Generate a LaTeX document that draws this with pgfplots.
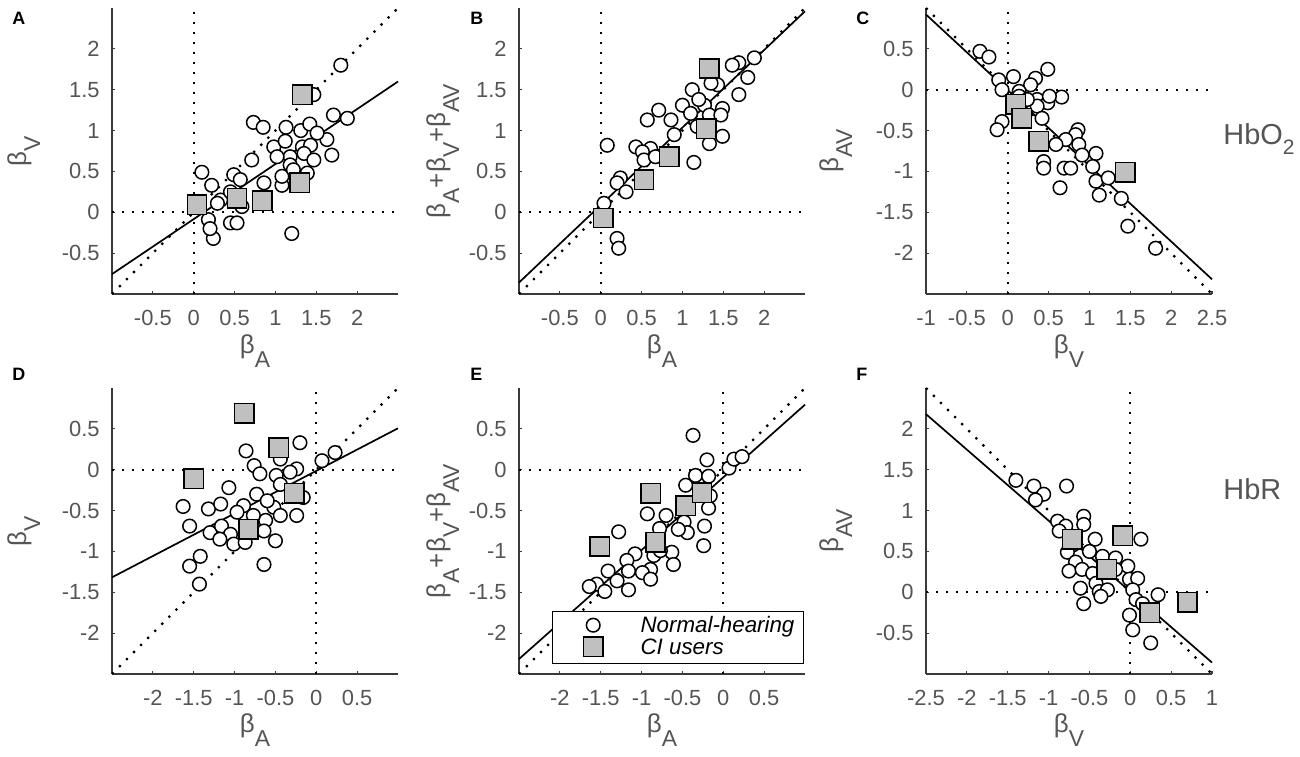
\documentclass[border=0pt]{standalone}
\usepackage{pgfplots}
\pgfplotsset{compat=1.18}
\usepackage{fontspec}
\setmainfont{Liberation Sans}
\definecolor{axgray}{HTML}{3A3A3A}
\definecolor{txtgray}{HTML}{555555}
\definecolor{sqgray}{HTML}{C0C0C0}
\newcommand{\bsub}[1]{β\raisebox{-7bp}{\fontsize{11.5}{11.5}\selectfont #1}}
\newcommand{\lab}[1]{{\fontsize{13}{13}\selectfont #1}}
\pgfplotsset{
  panel/.style={
    width=143bp,height=143bp,scale only axis,anchor=south west,
    axis lines=left,
    axis line style={-,draw=axgray,line width=0.8bp},
    tick align=inside, major tick length=1.5bp,
    tick style={draw=axgray,line width=0.6bp},
    xticklabel style={anchor=center,inner sep=0pt,yshift=-12bp,text=txtgray,font=\fontsize{11}{11}\selectfont},
    yticklabel style={anchor=east,inner sep=0pt,xshift=-6bp,text=txtgray,font=\fontsize{11}{11}\selectfont},
    clip=false,
  },
  circ/.style={only marks,color=black,mark=*,mark size=3.4bp,mark options={fill=white,draw=black,line width=0.75bp}},
  sq/.style={only marks,color=black,mark=square*,mark size=4.85bp,mark options={fill=sqgray,draw=black,line width=0.75bp}},
  dotl/.style={black,line width=1.1bp,dash pattern=on 1.1bp off 3.9bp,forget plot},
  regl/.style={black,line width=0.85bp,forget plot},
}
\begin{document}
\begin{tikzpicture}
% ---------------- A ----------------
\begin{axis}[panel,at={(56bp,231.5bp)},
  xmin=-1,xmax=2.5,ymin=-1,ymax=2.5,
  xtick={-0.5,0,0.5,1,1.5,2},xticklabels={-0.5,0,0.5,1,1.5,2},
  ytick={-0.5,0,0.5,1,1.5,2},yticklabels={-0.5,0,0.5,1,1.5,2}]
\addplot[circ] coordinates {(1.80,1.80)(1.47,1.44)(1.71,1.19)(1.88,1.15)(0.73,1.10)(0.85,1.04)(1.13,1.04)(1.31,1.00)(1.42,1.08)(0.98,0.80)(1.12,0.87)(1.33,0.80)(1.43,0.82)(1.63,0.89)(1.51,0.97)(1.35,0.72)(1.47,0.64)(1.69,0.70)(1.18,0.68)(1.02,0.68)(1.18,0.58)(0.71,0.64)(0.49,0.46)(0.10,0.49)(0.22,0.33)(0.57,0.40)(0.86,0.36)(1.08,0.33)(0.33,0.15)(0.45,0.25)(0.18,-0.09)(0.24,-0.32)(0.20,-0.20)(0.45,-0.13)(0.53,-0.13)(0.59,0.07)(1.20,-0.26)(0.06,0.07)(0.29,0.11)(1.08,0.44)(1.22,0.52)(1.39,0.48)};
\addplot[sq] coordinates {(0.04,0.09)(0.53,0.17)(0.84,0.14)(1.30,0.36)(1.33,1.44)};
\addplot[dotl] coordinates {(0,-1)(0,2.5)};
\addplot[dotl] coordinates {(-1,0)(2.5,0)};
\addplot[dotl] coordinates {(-1,-1)(2.5,2.5)};
\addplot[regl] coordinates {(-1,-0.757)(2.5,1.60)};
\end{axis}
% ---------------- B ----------------
\begin{axis}[panel,at={(259.5bp,231.5bp)},
  xmin=-1,xmax=2.5,ymin=-1,ymax=2.5,
  xtick={-0.5,0,0.5,1,1.5,2},xticklabels={-0.5,0,0.5,1,1.5,2},
  ytick={-0.5,0,0.5,1,1.5,2},yticklabels={-0.5,0,0.5,1,1.5,2}]
\addplot[circ] coordinates {(1.88,1.89)(1.69,1.83)(1.61,1.80)(1.80,1.65)(1.69,1.44)(1.43,1.56)(1.35,1.58)(1.12,1.50)(1.49,1.27)(1.27,1.31)(1.00,1.31)(0.71,1.25)(0.57,1.13)(0.86,1.13)(1.10,1.21)(1.18,1.05)(1.33,1.19)(0.90,0.95)(1.49,0.93)(1.33,0.84)(0.43,0.80)(0.61,0.78)(0.51,0.74)(0.08,0.82)(0.53,0.64)(1.14,0.61)(0.24,0.42)(0.20,0.36)(0.31,0.25)(0.04,0.11)(0.20,-0.32)(0.22,-0.44)(1.47,1.19)(1.20,1.38)(0.67,0.68)};
\addplot[sq] coordinates {(0.03,-0.07)(0.53,0.40)(0.84,0.68)(1.29,1.02)(1.33,1.76)};
\addplot[dotl] coordinates {(0,-1)(0,2.5)};
\addplot[dotl] coordinates {(-1,0)(2.5,0)};
\addplot[dotl] coordinates {(-1,-1)(2.5,2.5)};
\addplot[regl] coordinates {(-1,-0.86)(2.5,2.46)};
\end{axis}
% ---------------- C ----------------
\begin{axis}[panel,at={(463bp,231.5bp)},
  xmin=-1,xmax=2.5,ymin=-2.5,ymax=1,
  xtick={-1,-0.5,0,0.5,1,1.5,2,2.5},xticklabels={-1,-0.5,0,0.5,1,1.5,2,2.5},
  ytick={-2,-1.5,-1,-0.5,0,0.5},yticklabels={-2,-1.5,-1,-0.5,0,0.5}]
\addplot[circ] coordinates {(-0.34,0.47)(-0.23,0.40)(-0.11,0.12)(0.07,0.16)(0.34,0.14)(0.49,0.25)(0.28,0.06)(-0.07,0.00)(0.14,-0.02)(0.66,-0.09)(0.36,-0.12)(0.49,-0.16)(0.36,-0.20)(-0.07,-0.39)(-0.13,-0.49)(0.42,-0.35)(0.86,-0.49)(0.83,-0.55)(0.71,-0.61)(0.59,-0.67)(0.87,-0.67)(0.91,-0.80)(1.08,-0.78)(0.44,-0.88)(0.44,-0.96)(0.69,-0.96)(0.77,-0.96)(1.04,-0.94)(1.08,-1.12)(1.23,-1.08)(1.12,-1.29)(0.64,-1.20)(1.39,-1.33)(1.47,-1.67)(1.81,-1.94)(0.14,-0.08)(0.24,-0.12)(0.51,-0.08)};
\addplot[sq] coordinates {(0.10,-0.18)(0.17,-0.35)(0.38,-0.63)(1.44,-1.01)};
\addplot[dotl] coordinates {(0,-2.5)(0,1)};
\addplot[dotl] coordinates {(-1,0)(2.5,0)};
\addplot[dotl] coordinates {(-1,1)(2.5,-2.5)};
\addplot[regl] coordinates {(-1,0.92)(2.5,-2.32)};
\end{axis}
% ---------------- D ----------------
\begin{axis}[panel,at={(56bp,41.5bp)},
  xmin=-2.5,xmax=1,ymin=-2.5,ymax=1,
  xtick={-2,-1.5,-1,-0.5,0,0.5},xticklabels={-2,-1.5,-1,-0.5,0,0.5},
  ytick={-2,-1.5,-1,-0.5,0,0.5},yticklabels={-2,-1.5,-1,-0.5,0,0.5}]
\addplot[circ] coordinates {(0.23,0.21)(0.07,0.11)(-0.20,0.33)(-0.86,0.23)(-0.76,0.05)(-0.69,-0.05)(-0.44,0.13)(-0.24,0.01)(-0.32,-0.03)(-0.49,-0.07)(-0.44,-0.18)(-1.07,-0.22)(-0.73,-0.30)(-0.16,-0.34)(-1.63,-0.45)(-1.32,-0.48)(-1.17,-0.42)(-0.89,-0.44)(-0.97,-0.52)(-0.52,-0.46)(-0.44,-0.56)(-0.24,-0.56)(-1.55,-0.69)(-1.30,-0.77)(-1.16,-0.69)(-1.05,-0.79)(-0.62,-0.62)(-0.64,-0.75)(-1.18,-0.85)(-1.01,-0.91)(-0.87,-0.89)(-0.50,-0.87)(-1.42,-1.06)(-1.55,-1.18)(-1.43,-1.40)(-0.64,-1.16)(-0.77,-0.56)(-0.60,-0.38)};
\addplot[sq] coordinates {(-1.50,-0.11)(-0.88,0.69)(-0.46,0.27)(-0.27,-0.29)(-0.83,-0.73)};
\addplot[dotl] coordinates {(0,-2.5)(0,1)};
\addplot[dotl] coordinates {(-2.5,0)(1,0)};
\addplot[dotl] coordinates {(-2.5,-2.5)(1,1)};
\addplot[regl] coordinates {(-2.5,-1.317)(1,0.507)};
\end{axis}
% ---------------- E ----------------
\begin{axis}[panel,at={(259.5bp,41.5bp)},
  xmin=-2.5,xmax=1,ymin=-2.5,ymax=1,
  xtick={-2,-1.5,-1,-0.5,0,0.5},xticklabels={-2,-1.5,-1,-0.5,0,0.5},
  ytick={-2,-1.5,-1,-0.5,0,0.5},yticklabels={-2,-1.5,-1,-0.5,0,0.5},
  legend style={at={(axis description cs:0,0)},anchor=south west,xshift=16.5bp,yshift=5bp,
    draw=black,line width=0.6bp,fill=white,inner xsep=4.5bp,inner ysep=2.25bp,
    row sep=0pt,column sep=0pt,font=\fontsize{11.2}{11.2}\selectfont\itshape,
    nodes={inner sep=0pt,draw=none},cells={anchor=base west}},
  legend image code/.code={\path[draw=none,fill=none] (-15.8bp,-2.4bp) rectangle (23.7bp,8.1bp);
    \draw[#1] plot coordinates {(0bp,3.6bp)};}]
\addplot[circ] coordinates {(-0.37,0.42)(-0.20,0.12)(-0.34,-0.07)(-0.18,-0.08)(-0.46,-0.19)(-0.16,-0.32)(-0.18,-0.47)(-0.23,-0.69)(-0.24,-0.93)(-0.93,-0.54)(-0.70,-0.56)(-0.48,-0.64)(-0.44,-0.77)(-0.55,-0.73)(-0.78,-0.72)(-1.28,-0.76)(0.07,0.02)(0.13,0.13)(0.23,0.16)(-0.63,-1.01)(-0.61,-1.16)(-0.85,-1.05)(-1.08,-1.03)(-1.18,-1.11)(-0.89,-1.22)(-0.99,-1.26)(-1.16,-1.24)(-1.41,-1.24)(-0.89,-1.34)(-1.30,-1.36)(-1.16,-1.47)(-1.55,-1.40)(-1.64,-1.43)(-1.45,-1.49)(-0.77,-0.99)};
\addlegendentry{Normal-hearing}
\addplot[sq] coordinates {(-1.51,-0.94)(-0.89,-0.29)(-0.83,-0.89)(-0.46,-0.44)(-0.26,-0.28)};
\addlegendentry{CI users}
\addplot[dotl] coordinates {(0,-2.5)(0,1)};
\addplot[dotl] coordinates {(-2.5,0)(1,0)};
\addplot[dotl] coordinates {(-2.5,-2.5)(1,1)};
\addplot[regl] coordinates {(-2.5,-2.317)(1,0.796)};
\end{axis}
% ---------------- F ----------------
\begin{axis}[panel,at={(463bp,41.5bp)},
  xmin=-2.5,xmax=1,ymin=-1,ymax=2.5,
  xtick={-2.5,-2,-1.5,-1,-0.5,0,0.5,1},xticklabels={-2.5,-2,-1.5,-1,-0.5,0,0.5,1},
  ytick={-0.5,0,0.5,1,1.5,2},yticklabels={-0.5,0,0.5,1,1.5,2}]
\addplot[circ] coordinates {(-1.40,1.37)(-1.18,1.30)(-1.06,1.20)(-1.16,1.13)(-0.78,1.30)(-0.89,0.87)(-0.79,0.81)(-0.87,0.75)(-0.57,0.93)(-0.57,0.83)(-0.43,0.65)(-0.70,0.58)(-0.77,0.49)(-0.67,0.37)(-0.75,0.26)(-0.50,0.50)(-0.34,0.44)(-0.18,0.42)(-0.59,0.28)(-0.46,0.23)(-0.61,0.05)(-0.57,-0.14)(-0.42,0.11)(-0.38,0.01)(-0.28,0.03)(-0.36,-0.05)(-0.03,0.32)(-0.01,0.16)(0.09,0.17)(0.03,0.03)(0.07,-0.09)(0.15,-0.14)(-0.01,-0.28)(0.03,-0.46)(0.25,-0.62)(0.34,-0.03)(0.13,0.65)(-0.18,0.28)};
\addplot[sq] coordinates {(-0.71,0.65)(-0.09,0.69)(-0.29,0.28)(0.24,-0.25)(0.70,-0.12)};
\addplot[dotl] coordinates {(0,-1)(0,2.5)};
\addplot[dotl] coordinates {(-2.5,0)(1,0)};
\addplot[dotl] coordinates {(-2.5,2.5)(1,-1)};
\addplot[regl] coordinates {(-2.5,2.18)(1,-0.86)};
\end{axis}
% ---------------- labels ----------------
\begin{scope}[every node/.style={inner sep=0pt,text=txtgray}]
\node[anchor=base] at (127.5bp,201.5bp) {\lab{\bsub{A}}};
\node[anchor=base] at (331bp,201.5bp) {\lab{\bsub{A}}};
\node[anchor=base] at (534.5bp,201.5bp) {\lab{\bsub{V}}};
\node[anchor=base] at (127.5bp,12.5bp) {\lab{\bsub{A}}};
\node[anchor=base] at (331bp,12.5bp) {\lab{\bsub{A}}};
\node[anchor=base] at (534.5bp,12.5bp) {\lab{\bsub{V}}};
\node[anchor=base,rotate=90] at (13bp,303bp) {\lab{\bsub{V}}};
\node[anchor=base,rotate=90] at (222.5bp,303bp) {\lab{\bsub{A}+\bsub{V}+\bsub{AV}}};
\node[anchor=base,rotate=90] at (419bp,303bp) {\lab{\bsub{AV}}};
\node[anchor=base,rotate=90] at (13bp,113bp) {\lab{\bsub{V}}};
\node[anchor=base,rotate=90] at (222.5bp,113bp) {\lab{\bsub{A}+\bsub{V}+\bsub{AV}}};
\node[anchor=base,rotate=90] at (419bp,113bp) {\lab{\bsub{AV}}};
\node[anchor=base west] at (611.5bp,306bp) {\fontsize{14.5}{14.5}\selectfont HbO\raisebox{-5bp}{\fontsize{10.5}{10.5}\selectfont 2}};
\node[anchor=base west] at (611.5bp,128.5bp) {\fontsize{14.5}{14.5}\selectfont HbR};
\end{scope}
\begin{scope}[every node/.style={inner sep=0pt,text=black,anchor=base west,font=\fontsize{9}{9}\selectfont\bfseries}]
\node at (6bp,366bp) {A};
\node at (235bp,366bp) {B};
\node at (428bp,366bp) {C};
\node at (6bp,188bp) {D};
\node at (235bp,188bp) {E};
\node at (428bp,188bp) {F};
\end{scope}
\pgfresetboundingbox
\path (0,0) rectangle (650bp,378.5bp);
\end{tikzpicture}
\end{document}
